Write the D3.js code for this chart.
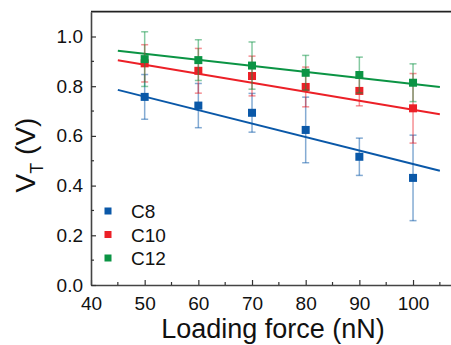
<!DOCTYPE html>
<html>
<head>
<meta charset="utf-8">
<script src="https://cdn.jsdelivr.net/npm/d3@7"></script>
<style>
  body { margin: 0; background: #fff; }
  svg { display: block; font-family: Arial, "Liberation Sans", sans-serif; }
</style>
</head>
<body>
<svg id="chart" width="451" height="345"></svg>
<script>
// loading force (nN)
var forces = [50, 60, 70, 80, 90, 100];

// series names + colors
var seriesNames = ["C8", "C10", "C12"];
var seriesColors = ["#0a58a8", "#ec2027", "#0b9444"];

// V_T means and error (half widths)
var c8Vals  = [0.757, 0.722, 0.693, 0.624, 0.516, 0.431];
var c8Err   = [0.090, 0.089, 0.078, 0.132, 0.075, 0.172];
var c10Vals = [0.892, 0.862, 0.841, 0.797, 0.781, 0.711];
var c10Err  = [0.075, 0.090, 0.080, 0.080, 0.060, 0.140];
var c12Vals = [0.909, 0.905, 0.883, 0.854, 0.845, 0.814];
var c12Err  = [0.110, 0.082, 0.095, 0.070, 0.072, 0.076];

// linear fits, drawn from fitRange[0] to fitRange[1]
var fitIntercepts = [1.029, 1.068, 1.052];
var fitSlopes = [-0.00542, -0.00363, -0.00243];
var fitRange = [45, 105];

var xTicks = [40, 50, 60, 70, 80, 90, 100];
var yTicks = [0, 0.2, 0.4, 0.6, 0.8, 1.0];

var allVals = [c8Vals, c10Vals, c12Vals];
var allErr = [c8Err, c10Err, c12Err];

var svg = d3.select("#chart");

var x = d3.scaleLinear().domain([40, 110]).range([91, 466.7]);
var y = d3.scaleLinear().domain([0, 1.1]).range([285, 11.65]);

// frame top line (right side is cut off by the picture)
svg.append("line")
    .attr("x1", x(40)).attr("x2", 451)
    .attr("y1", y(1.1)).attr("y2", y(1.1))
    .attr("stroke", "#222").attr("stroke-width", 1.6);

// x axis
var xAxisCall = d3.axisBottom(x)
    .tickValues(xTicks)
    .tickSizeInner(-5).tickSizeOuter(0)
    .tickPadding(12)
    .tickFormat(d3.format("d"));
var xAxisGroup = svg.append("g")
    .attr("class", "x-axis")
    .attr("transform", "translate(0," + y(0) + ")")
    .call(xAxisCall);
xAxisGroup.selectAll("text").attr("font-size", "19px").attr("fill", "#111");

// minor x ticks
svg.append("g").selectAll("line")
    .data([45, 55, 65, 75, 85, 95, 105])
    .enter().append("line")
      .attr("x1", function(d){ return x(d); })
      .attr("x2", function(d){ return x(d); })
      .attr("y1", y(0)).attr("y2", y(0) - 3)
      .attr("stroke", "#333").attr("stroke-width", 1.2);

// y axis
var yAxisCall = d3.axisLeft(y)
    .tickValues(yTicks)
    .tickSizeInner(-5).tickSizeOuter(0)
    .tickPadding(8)
    .tickFormat(d3.format(".1f"));
var yAxisGroup = svg.append("g")
    .attr("class", "y-axis")
    .attr("transform", "translate(" + x(40) + ",0)")
    .call(yAxisCall);
yAxisGroup.selectAll("text").attr("font-size", "19px").attr("fill", "#111");

// minor y ticks
svg.append("g").selectAll("line")
    .data([0.1, 0.3, 0.5, 0.7, 0.9])
    .enter().append("line")
      .attr("x1", x(40)).attr("x2", x(40) + 3)
      .attr("y1", function(d){ return y(d); })
      .attr("y2", function(d){ return y(d); })
      .attr("stroke", "#333").attr("stroke-width", 1.2);

svg.selectAll(".domain").attr("stroke", "#444").attr("stroke-width", 1.6);
svg.selectAll(".tick line").attr("stroke", "#333").attr("stroke-width", 1.2);

// label X
svg.append("text")
    .attr("x", 273)
    .attr("y", 338)
    .attr("font-size", "27px")
    .attr("text-anchor", "middle")
    .attr("fill", "#111")
    .text("Loading force (nN)");

// label Y
var labelY = svg.append("text")
    .attr("transform", "translate(35,155) rotate(-90)")
    .attr("font-size", "28px")
    .attr("text-anchor", "middle")
    .attr("fill", "#111");
labelY.append("tspan").text("V");
labelY.append("tspan").attr("font-size", "18px").attr("dy", 8).text("T");
labelY.append("tspan").attr("dy", -8).text(" (V)");

// fit lines
seriesNames.forEach(function(name, i){
  svg.append("line")
      .attr("x1", x(fitRange[0]))
      .attr("x2", x(fitRange[1]))
      .attr("y1", y(fitIntercepts[i] + fitSlopes[i] * fitRange[0]))
      .attr("y2", y(fitIntercepts[i] + fitSlopes[i] * fitRange[1]))
      .attr("stroke", seriesColors[i])
      .attr("stroke-width", 2);
});

// error bars + markers
seriesNames.forEach(function(name, i){
  var g = svg.append("g").attr("class", "series-" + name);
  var pts = forces.map(function(f, j){
    return {f: f, v: allVals[i][j], e: allErr[i][j]};
  });
  var eb = g.selectAll(".err").data(pts).enter().append("g")
      .attr("stroke", seriesColors[i])
      .attr("stroke-opacity", 0.5)
      .attr("stroke-width", 1.5);
  eb.append("line")
      .attr("x1", function(d){ return x(d.f); })
      .attr("x2", function(d){ return x(d.f); })
      .attr("y1", function(d){ return y(d.v - d.e); })
      .attr("y2", function(d){ return y(d.v + d.e); });
  [-1, 1].forEach(function(s){
    eb.append("line")
        .attr("x1", function(d){ return x(d.f) - 3.5; })
        .attr("x2", function(d){ return x(d.f) + 3.5; })
        .attr("y1", function(d){ return y(d.v + s * d.e); })
        .attr("y2", function(d){ return y(d.v + s * d.e); });
  });
  g.selectAll("rect").data(pts).enter().append("rect")
      .attr("x", function(d){ return x(d.f) - 4; })
      .attr("y", function(d){ return y(d.v) - 4; })
      .attr("width", 8).attr("height", 8)
      .attr("fill", seriesColors[i]);
});

// legend
var legend = svg.append("g").attr("transform", "translate(108,211)");
seriesNames.forEach(function(name, i){
  legend.append("rect")
      .attr("x", -3.5).attr("y", i * 23.5 - 3.5)
      .attr("width", 7).attr("height", 7)
      .attr("fill", seriesColors[i]);
  legend.append("text")
      .attr("x", 23).attr("y", i * 23.5 + 7)
      .attr("font-size", "19px")
      .attr("fill", "#111")
      .text(name);
});
</script>
</body>
</html>
